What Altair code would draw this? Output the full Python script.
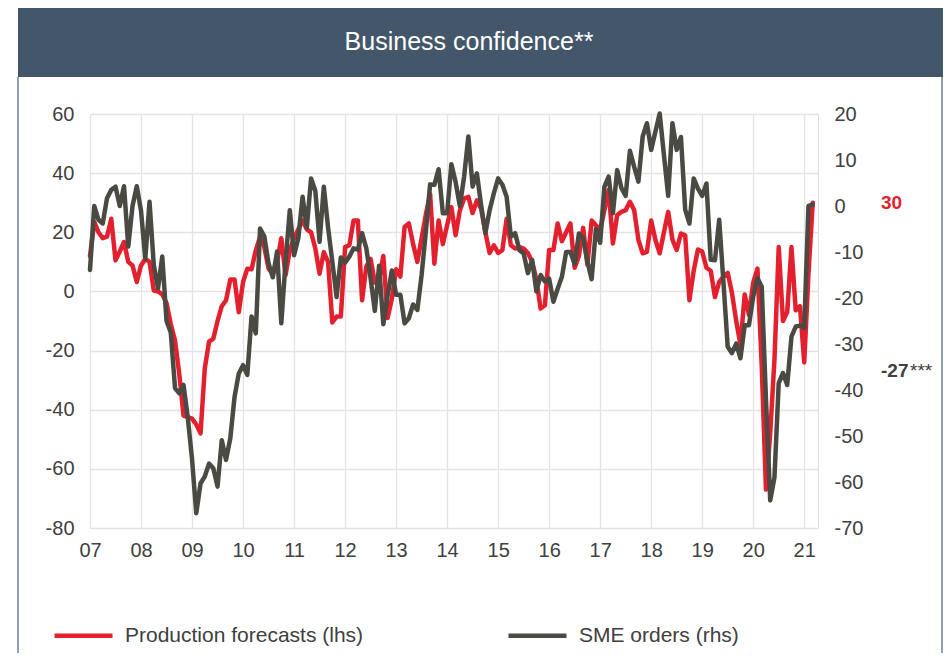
import altair as alt
import pandas as pd

# ---------------- data (monthly, Jan 2007 - Mar 2021) ----------------
START_YEAR = 2007
production = [
    12, 23.5, 20, 18, 18.5, 24.6, 10.5, 13.5, 16.7, 10, 8.8, 3.2,          # 2007
    8.8, 11, 10, 0.3, 0, -1, -4, -11, -16.6, -28, -42, -42.5,              # 2008
    -43, -45, -48, -26, -17, -16, -10, -5, -3, 4, 4, -7,                   # 2009
    3.2, 7.7, 7.5, 13.9, 18.4, 15, 7.7, 6, 10, 18, 5.5, 14,                # 2010
    18, 21, 24, 21, 20, 14.5, 6, 13.3, 10, -10.5, -8.5, -8.5,              # 2011
    15, 15.6, 24, 24, -3, 8.5, 11, 3, 4, 12, -9, -2.5,                     # 2012
    7.5, 5, 21.8, 23, 16, 10, 18, 26, 33, 9.4, 24, 16,                     # 2013
    22.4, 28.5, 19, 27.4, 31.4, 32, 26.5, 30.8, 28, 20, 13, 15.6,          # 2014
    13, 14, 24.6, 15.6, 14.5, 15, 14.5, 13, 10, 4, -5.8, -4.7,             # 2015
    14, 14, 23, 17, 20, 23, 8, 12, 21.5, 9, 24, 22.4,                      # 2016
    20.7, 27.5, 34.3, 16.2, 25.8, 26.9, 27.5, 30.3, 27.5, 17.4, 12.9, 13.4,  # 2017
    24, 17.4, 12.9, 20, 26.9, 17.5, 14, 19.6, 19, -3, 7, 14.2,             # 2018
    13.5, 8, 7, -1.9, 3.2, 5, 6.3, -0.5, -10, -18, -1, -8,                 # 2019
    3, 7.7, -25, -67, -48, -23, 15, -10, -7, 15, -6.4, -5,                 # 2020
    -24, 6, 30,                                                            # 2021
]
sme_orders = [
    -13.9, 0, -3, -3.8, 1.7, 3.5, 4.2, 0, 4.3, -8.8, 0, 4.3,               # 2007
    -1, -11.5, 0.9, -12.8, -17.9, -11, -25, -27.5, -39.6, -40.7, -38.9, -46,  # 2008
    -55, -66.8, -60.3, -58.8, -56, -57, -61, -50.9, -55.2, -50.5, -41.5, -36.4,  # 2009
    -34.6, -36.7, -24, -27.7, -4.9, -6.6, -12.5, -15.5, -9.9, -25.5, -12.1, -0.9,  # 2010
    -10.7, -7, 2, -4.7, 6, 3.3, -7.8, 4.2, -4.7, -12.1, -19.8, -11.2,      # 2011
    -12.3, -11, -9.2, -9.5, -5.9, -9.2, -15.7, -22.8, -13, -25.7, -19.5, -14,  # 2012
    -19.3, -19.3, -25.5, -24.4, -21.4, -22.6, -15, -5.6, 4.7, 4.6, 8, -1.6,  # 2013
    -1.6, 9.1, 5.2, 0, 6.4, 15.1, 4.2, 7.1, 0.2, -5.9, -0.9, 2.8,          # 2014
    6, 4.6, 2, -6.7, -5.9, -9.6, -10.3, -14.6, -11.7, -18.6, -15, -16.4,   # 2015
    -15.8, -20.8, -18, -15.4, -10, -10, -12.6, -6, -7, -12.1, -15.9, -5,   # 2016
    -8, 4.2, 6.4, -1.6, 7.8, 3.9, 2.2, 12, 8.5, 5.3, 15.1, 18,             # 2017
    12.2, 16.2, 20.1, 11.1, 2.2, 18, 12.2, 15, -0.8, -3.8, 6, 3.8,         # 2018
    2.2, 4.9, -11.7, -11.8, -3, -16.6, -30.6, -32, -29.9, -33.1, -25.9, -25.9,  # 2019
    -19.7, -15.7, -17.5, -42, -64, -59, -38.5, -36.3, -38.9, -28.4, -26.2, -26,  # 2020
    -26.5, 0, 0.3,                                                         # 2021
]

series_names = ["Production forecasts (lhs)", "SME orders (rhs)"]
series_colors = ["#E3202E", "#4A4A42"]
year_ticks = list(range(2007, 2022))
left_ticks = [60, 40, 20, 0, -20, -40, -60, -80]
right_ticks = [20, 10, 0, -10, -20, -30, -40, -50, -60, -70]
ann_labels = ["30", "-27"]
ann_values = [30, -27]
ann_colors = ["#E3202E", "#404040"]
title_text = "Business confidence**"

# ---------------- tables ----------------
t_prod = [START_YEAR + i / 12 for i in range(len(production))]
t_sme = [START_YEAR + i / 12 for i in range(len(sme_orders))]
df = pd.DataFrame({
    "t": t_prod + t_sme,
    "value": production + sme_orders,
    "series": [series_names[0]] * len(production) + [series_names[1]] * len(sme_orders),
})
ann = pd.DataFrame({"label": ann_labels, "value": ann_values, "color": ann_colors})
ann_star = pd.DataFrame({"label": ["***"], "value": [ann_values[1]]})
title_df = pd.DataFrame({"title": [title_text]})

FONT = "Liberation Sans"
TXT = "#404040"
GRID = "#E4E4E4"
FRAME = "#6F7F8E"

color = alt.Color(
    "series:N",
    scale=alt.Scale(domain=series_names, range=series_colors),
    legend=alt.Legend(
        orient="none", legendX=-38, legendY=490, direction="horizontal",
        symbolType="stroke", symbolStrokeWidth=4.5, symbolSize=3364,
        labelFontSize=21, labelFont=FONT, labelColor=TXT, labelOffset=10,
        columnPadding=135, labelLimit=400, title=None, padding=0,
    ),
)

x_enc = alt.X(
    "t:Q",
    scale=alt.Scale(domain=[2007, 2021.27], nice=False, zero=False),
    axis=alt.Axis(
        values=year_ticks, labelExpr="substring(toString(datum.value), 2, 4)",
        grid=True, gridColor=GRID, gridWidth=1.3, domain=False, ticks=False,
        labelFontSize=20, labelFont=FONT, labelColor=TXT, labelPadding=12,
        title=None, labelFlush=False,
    ),
)

y_left = alt.Y(
    "value:Q",
    scale=alt.Scale(domain=[-80, 60], nice=False, zero=False),
    axis=alt.Axis(
        orient="left", values=left_ticks, labelExpr="toString(datum.value)",
        grid=True, gridColor=GRID, gridWidth=1.3, domain=False, ticks=False,
        labelFontSize=20, labelFont=FONT, labelColor=TXT, labelPadding=16,
        title=None,
    ),
)
y_right = alt.Y(
    "value:Q",
    scale=alt.Scale(domain=[-70, 20], nice=False, zero=False),
    axis=alt.Axis(
        orient="right", values=right_ticks, labelExpr="toString(datum.value)",
        grid=False, domain=False, ticks=False,
        labelFontSize=20, labelFont=FONT, labelColor=TXT, labelPadding=16,
        title=None,
    ),
)

banner = alt.Chart(title_df).mark_rect(color="#44576A").encode(
    x=alt.value(-72), x2=alt.value(853), y=alt.value(-110), y2=alt.value(-37)
)
title = alt.Chart(title_df).mark_text(
    fontSize=25, font=FONT, color="white", align="center", baseline="middle"
).encode(x=alt.value(379), y=alt.value(-72), text="title:N")
border_left = alt.Chart(title_df).mark_rule(color=FRAME, strokeWidth=1.5).encode(
    x=alt.value(-72), y=alt.value(-37), y2=alt.value(540)
)
border_right = alt.Chart(title_df).mark_rule(color=FRAME, strokeWidth=1.5).encode(
    x=alt.value(852), y=alt.value(-37), y2=alt.value(540)
)

red_line = alt.Chart(df).transform_filter(
    alt.datum.series == series_names[0]
).mark_line(strokeWidth=4.5, strokeJoin="round", strokeCap="round").encode(
    x=x_enc, y=y_left, color=color
)
ann_text = alt.Chart(ann).mark_text(
    fontSize=19, font=FONT, fontWeight="bold", align="left", baseline="middle"
).encode(
    x=alt.value(791), y=alt.Y("value:Q"), text="label:N",
    color=alt.Color("color:N", scale=None),
)
ann_star_text = alt.Chart(ann_star).mark_text(
    fontSize=19, font=FONT, color=TXT, align="left", baseline="middle"
).encode(x=alt.value(820), y=alt.Y("value:Q"), text="label:N")

left = alt.layer(red_line, ann_text, ann_star_text)

gray_line = alt.Chart(df).transform_filter(
    alt.datum.series == series_names[1]
).mark_line(strokeWidth=4.5, strokeJoin="round", strokeCap="round").encode(
    x=x_enc, y=y_right, color=color
)

chart = alt.layer(banner, title, border_left, border_right, left, gray_line).resolve_scale(
    y="independent"
).properties(
    width=728, height=414,
    autosize=alt.AutoSizeParams(type="none"),
    padding={"left": 82, "top": 106, "right": 125, "bottom": 125},
).configure_view(stroke=None).configure(background="white")

chart.save("out.html", embed_options={"renderer": "svg", "actions": False})
